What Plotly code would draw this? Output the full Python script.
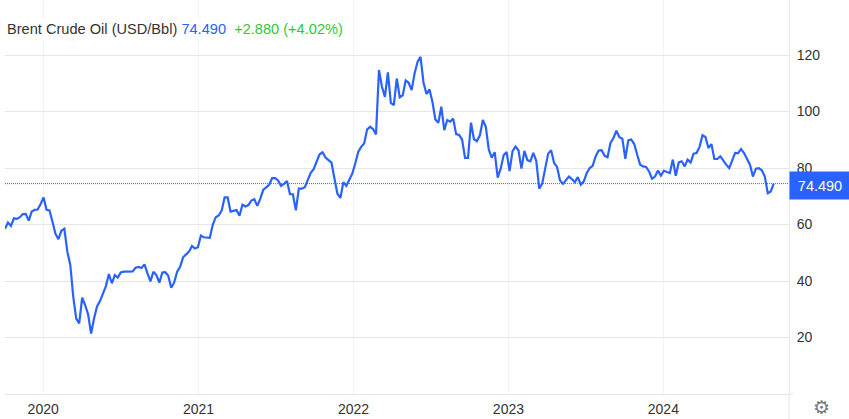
import pandas as pd
import plotly.graph_objects as go

series_name = "Brent Crude Oil (USD/Bbl)"
last_value = 74.49
change_text = "+2.880 (+4.02%)"
x_tick_dates = ["2020-01-01", "2021-01-01", "2022-01-01", "2023-01-01", "2024-01-01"]
x_tick_labels = ["2020", "2021", "2022", "2023", "2024"]
y_ticks = [20, 40, 60, 80, 100, 120]
first_date = "2019-10-03"
last_date = "2024-09-17"

prices_2019_2021 = [
    58.5, 60.7, 59.5, 62.2, 62.0, 62.6, 63.7, 63.8, 61.4, 64.6, 65.2, 65.3, 67.3, 69.6, 65.2, 65.0,
    61.0, 56.7, 54.8, 57.8, 58.5, 50.4, 45.7, 34.4, 26.7, 25.0, 34.1, 31.5, 28.2, 21.4, 26.7, 31.0,
    32.9, 35.6, 38.2, 42.5, 39.2, 42.1, 41.2, 43.0, 43.3, 43.3, 43.3, 43.4, 44.7, 45.0, 44.6, 45.9,
    42.7, 39.9, 43.3, 42.1, 39.4, 43.0, 43.1, 41.9, 37.6, 39.5, 43.3, 45.0, 48.4, 49.6, 50.4, 52.4,
    51.5, 52.0, 56.1, 55.5, 55.5, 55.3, 59.9, 62.6, 63.2, 64.9, 69.6, 69.6, 64.6, 64.9, 65.1, 63.1,
    67.0, 66.4, 66.9, 68.5, 69.0, 66.6, 69.1, 72.3, 73.1, 74.1, 76.4, 76.4, 75.6,
]
prices_2021_2023 = [
    73.7, 74.4, 75.4, 70.8, 70.7, 65.0, 72.7, 72.7, 73.2, 75.7, 78.3, 79.6, 82.5, 84.9, 85.6, 83.7,
    82.8, 81.9, 76.3, 70.9, 69.4, 75.0, 73.7, 75.7, 78.0, 81.6, 85.7, 87.5, 88.7, 93.6, 94.6, 93.8,
    91.9, 114.7, 108.8, 105.2, 113.9, 103.1, 102.3, 111.7, 105.0, 105.7, 111.0, 110.2, 107.6, 113.5,
    117.6, 119.4, 110.3, 106.2, 107.9, 103.5, 97.2, 96.0, 101.7, 93.4, 97.0, 96.4, 97.5, 92.0, 91.7,
    90.1, 83.6, 83.6, 96.1, 90.2, 89.5, 91.6, 97.0, 94.6, 86.5, 83.7, 85.6, 76.6, 79.8, 84.5, 85.7,
    78.9, 86.0, 87.6, 86.3, 79.8, 86.1, 82.8, 82.4, 85.4, 82.5, 72.7, 74.5, 79.8, 85.1,
]
prices_2023_2024 = [
    86.3, 81.8, 80.4, 75.6, 74.4, 75.9, 77.0, 76.1, 75.0, 76.8, 74.1, 75.3, 78.2, 80.0, 80.8, 84.1,
    86.2, 86.3, 84.4, 83.8, 88.9, 90.6, 93.2, 90.9, 90.4, 83.3, 89.8, 90.1, 88.5, 84.7, 81.2, 80.6,
    80.4, 78.8, 76.2, 77.0, 79.1, 77.3, 79.1, 78.6, 78.2, 83.0, 77.3, 82.0, 82.4, 80.6, 83.0, 82.0,
    85.1, 85.3, 87.5, 91.6, 91.0, 87.1, 88.5, 83.2, 83.2, 84.1, 82.4, 81.2, 80.0, 83.0, 85.4, 85.3,
    86.7, 85.3, 83.0, 81.2, 77.0, 79.8, 80.0, 79.2, 77.0, 71.1, 71.7, 74.49,
]
prices = prices_2019_2021 + prices_2021_2023 + prices_2023_2024
dates = pd.date_range(first_date, last_date, periods=len(prices))

BLUE = "#2962ff"
FONT = "Liberation Sans, Arial, sans-serif"

fig = go.Figure()
fig.add_trace(go.Scatter(x=dates, y=prices, mode="lines", line=dict(color=BLUE, width=2.2), hoverinfo="skip"))
fig.add_shape(type="line", xref="paper", x0=0, x1=1, yref="y", y0=last_value, y1=last_value,
              line=dict(color="#4a6a9a", width=1, dash="1px,1px"), layer="above")
fig.add_shape(type="line", xref="paper", yref="paper", x0=1, x1=1, y0=0, y1=-0.0635,
              line=dict(color="#e6e6e6", width=1))
fig.add_shape(type="line", xref="paper", yref="paper", x0=1, x1=1.006, y0=0, y1=0,
              line=dict(color="#e6e6e6", width=1))

fig.update_layout(
    width=849, height=419, autosize=False,
    margin=dict(l=5, r=60, t=0, b=25),
    paper_bgcolor="white", plot_bgcolor="white",
    showlegend=False,
    font=dict(family=FONT, size=14, color="#333333"),
    xaxis=dict(type="date", range=["2019-10-03", "2024-10-23"], tickvals=x_tick_dates, ticktext=x_tick_labels,
               showgrid=True, gridcolor="#eef3f8", gridwidth=1, zeroline=False,
               showline=True, linecolor="#e6e6e6", linewidth=1, ticks="outside", ticklen=2, tickcolor="white",
               tickfont=dict(size=14, color="#333333")),
    yaxis=dict(side="right", range=[0, 139.5], tickvals=y_ticks, showgrid=True, gridcolor="#e6e6e6", gridwidth=1,
               zeroline=False, showline=True, linecolor="#e6e6e6", linewidth=1, ticks="outside", ticklen=4,
               tickcolor="white", tickfont=dict(size=14, color="#333333")),
    annotations=[
        dict(xref="paper", yref="paper", x=-0.001, y=0.954, xanchor="left", yanchor="top", showarrow=False,
             align="left", bgcolor="white", borderpad=2, font=dict(size=14.6, color="#333333"),
             text=(f"{series_name} <span style='color:{BLUE}'>{last_value:.3f}</span>"
                   f"  <span style='color:#32c832'>{change_text}</span>")),
        dict(xref="paper", yref="y", x=1, y=last_value, xanchor="left", yanchor="middle", yshift=-2,
             showarrow=False, width=60, height=27, bgcolor=BLUE, borderpad=0, align="center",
             font=dict(size=14.5, color="white"), text=f"{last_value:.3f}"),
        dict(xref="paper", yref="paper", x=1, y=0, xshift=32, yshift=-13, xanchor="center", yanchor="middle",
             showarrow=False, font=dict(family="DejaVu Sans", size=19, color="#777777"), text="\u2699"),
    ],
)

fig.write_html("out.html", config=dict(displayModeBar=False),
               post_script="document.body.style.margin='0';document.body.style.overflow='hidden';")
